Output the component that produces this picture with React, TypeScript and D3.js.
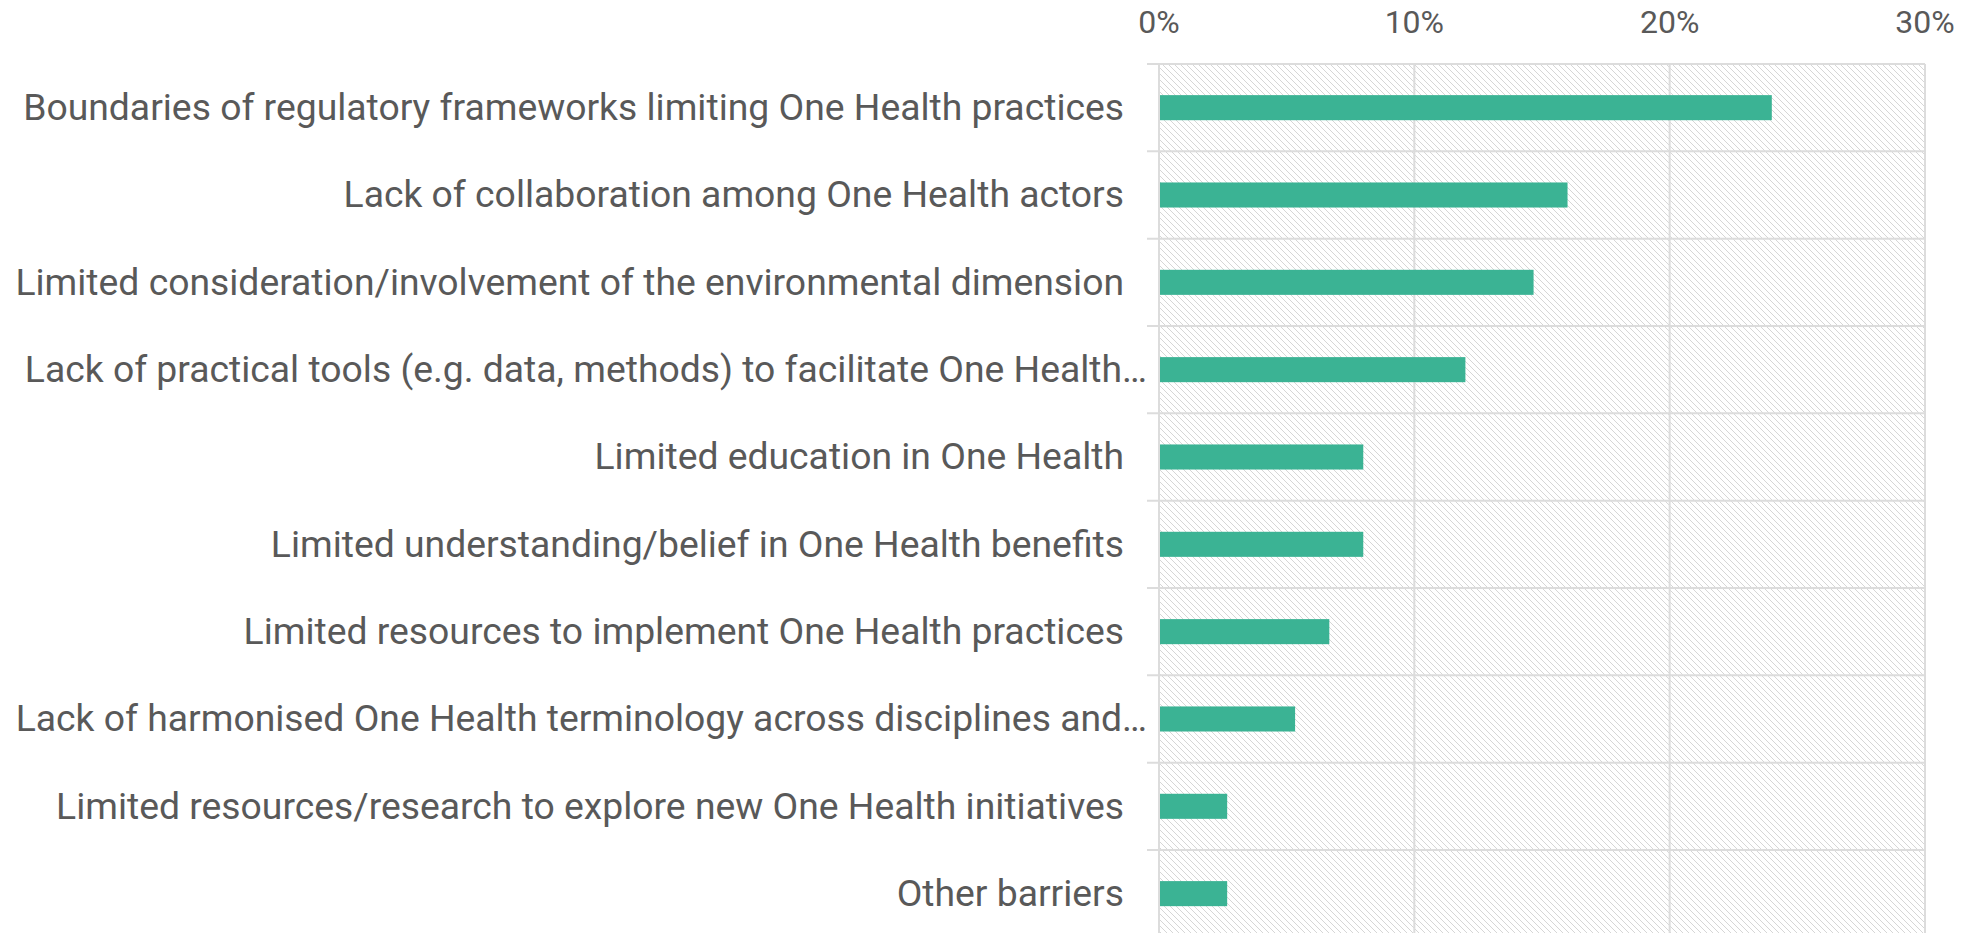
import React from "react";
import * as d3 from "d3";

const categories: string[] = [
  "Boundaries of regulatory frameworks limiting One Health practices",
  "Lack of collaboration among One Health actors",
  "Limited consideration/involvement of the environmental dimension",
  "Lack of practical tools (e.g. data, methods) to facilitate One Health…",
  "Limited education in One Health",
  "Limited understanding/belief in One Health benefits",
  "Limited resources to implement One Health practices",
  "Lack of harmonised One Health terminology across disciplines and…",
  "Limited resources/research to explore new One Health initiatives",
  "Other barriers",
];

const values: number[] = [24.0, 16.0, 14.67, 12.0, 8.0, 8.0, 6.67, 5.33, 2.67, 2.67];

const tickValues: number[] = [0, 10, 20, 30];
const tickLabels: string[] = ["0%", "10%", "20%", "30%"];

const W = 1982;
const H = 933;
const plotLeft = 1159;
const plotRight = 1925;
const plotTop = 64;
const plotBottom = 937.3;

export default function App() {
  const x = d3.scaleLinear().domain([0, 30]).range([plotLeft, plotRight]);
  const y = d3.scaleBand<string>().domain(categories).range([plotTop, plotBottom]).padding(0);
  const bw = y.bandwidth();
  const barH = bw * 0.287;
  const gridColor = "#dcdcdc";
  const textColor = "#595959";
  const font = "Roboto, 'Noto Sans', sans-serif";

  return (
    <svg
      width={W}
      height={H}
      style={{ position: "absolute", left: 0, top: 0, display: "block", background: "#fff" }}
    >
      <defs>
        <pattern id="hatch" patternUnits="userSpaceOnUse" width="6" height="6">
          <path d="M-1,-1 L7,7 M-7,-1 L1,7 M5,-1 L13,7" stroke="#d6d6d6" strokeWidth="1" />
        </pattern>
      </defs>
      <rect
        x={plotLeft}
        y={plotTop}
        width={plotRight - plotLeft}
        height={plotBottom - plotTop}
        fill="url(#hatch)"
      />
      {tickValues.map((t) => (
        <line
          key={"v" + t}
          x1={x(t)}
          x2={x(t)}
          y1={plotTop}
          y2={plotBottom}
          stroke={gridColor}
          strokeWidth={2}
        />
      ))}
      {categories.map((c, i) => (
        <line
          key={"h" + i}
          x1={plotLeft - 12}
          x2={plotRight}
          y1={y(c) as number}
          y2={y(c) as number}
          stroke={gridColor}
          strokeWidth={2}
        />
      ))}
      <line
        x1={plotLeft - 12}
        x2={plotRight}
        y1={plotBottom}
        y2={plotBottom}
        stroke={gridColor}
        strokeWidth={2}
      />
      {categories.map((c, i) => (
        <rect
          key={"b" + i}
          x={x(0) + 1}
          y={(y(c) as number) + bw / 2 - barH / 2}
          width={x(values[i]) - x(0) - 1}
          height={barH}
          fill="#3bb394"
        />
      ))}
      {tickValues.map((t, i) => (
        <text
          key={"t" + t}
          x={x(t)}
          y={33}
          textAnchor="middle"
          fontFamily={font}
          fontSize={32}
          fill={textColor}
        >
          {tickLabels[i]}
        </text>
      ))}
      {categories.map((c, i) => (
        <text
          key={"l" + i}
          x={c.endsWith("…") ? plotLeft - 12 : plotLeft - 35}
          y={(y(c) as number) + bw / 2 - 1}
          dy="0.36em"
          textAnchor="end"
          fontFamily={font}
          fontSize={37.3}
          fill={textColor}
        >
          {c}
        </text>
      ))}
    </svg>
  );
}
